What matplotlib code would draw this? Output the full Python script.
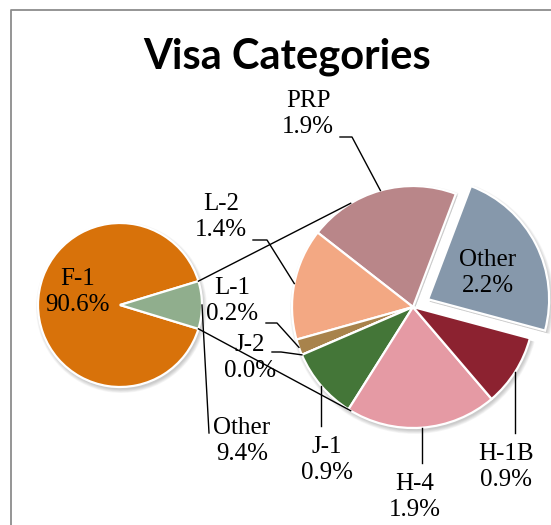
import numpy as np
import matplotlib
matplotlib.use("Agg")
import matplotlib.pyplot as plt
from matplotlib.patches import Wedge

W, H = 551, 525

# first pie
main_labels = ["F-1", "Other"]
main_values = [90.6, 9.4]
main_colors = ["#D8720A", "#90AE8D"]

# breakdown of "Other", counter-clockwise starting at the exploded slice
sub_labels = ["Other", "PRP", "L-2", "L-1", "J-2", "J-1", "H-4", "H-1B"]
sub_values = [2.2, 1.9, 1.4, 0.2, 0.0, 0.9, 1.9, 0.9]
sub_colors = ["#8698AB", "#B98689", "#F3A883", "#A8834C", "#6E8F4E",
              "#447638", "#E59AA4", "#8C2230"]


def px(x, y):
    """pixel position (from top-left) -> data coords"""
    return (x, H - y)


# layout, in pixels from the top-left corner
main_center, main_r = (120, 305), 82
sub_center, sub_r = (413, 307), 121
main_label_pos = {"F-1": (78, 292), "Other": (242, 441)}
sub_label_pos = {"Other": (488, 273), "PRP": (308, 114), "L-2": (221, 217),
                 "L-1": (232, 301), "J-2": (250, 358), "J-1": (327, 460),
                 "H-4": (415, 497), "H-1B": (506, 467)}
# elbow leaders: short horizontal run next to the text, then to the slice
elbows = {"PRP": [(340, 137), (352, 137)], "L-2": [(253, 240), (267, 240)],
          "L-1": [(266, 323), (277, 323)], "J-2": [(272, 352), (281, 352)]}
vertical_leaders = ["J-1", "H-4", "H-1B"]

label_font = dict(family="Liberation Serif", fontsize=18, color="black")

fig = plt.figure(figsize=(W / 100, H / 100), dpi=100)
ax = fig.add_axes([0, 0, 1, 1])

wp = dict(edgecolor="white", linewidth=1.6)
wl, _ = ax.pie(main_values, colors=main_colors, center=px(*main_center),
               radius=main_r, startangle=180 * main_values[1] / sum(main_values),
               wedgeprops=wp)
# explode is in data units (pixels here)
explode = [17] + [0] * (len(sub_values) - 1)
wr, _ = ax.pie(sub_values, colors=sub_colors, center=px(*sub_center),
               radius=sub_r, startangle=-15, explode=explode, wedgeprops=wp)


def add_shadow(wedges):
    # soft drop shadow under each slice
    for w in wedges:
        cx, cy = w.center
        for k in range(6):
            ax.add_patch(Wedge((cx + 1.5, cy - 2.5), w.r + 0.7 * k, w.theta1, w.theta2,
                               facecolor="black", alpha=0.035, lw=0, zorder=0))


add_shadow(wl)
add_shadow(wr)


def anchor(w):
    t = np.deg2rad((w.theta1 + w.theta2) / 2)
    return w.center[0] + w.r * np.cos(t), w.center[1] + w.r * np.sin(t)


# connector lines between the two pies
other = wl[1]
cx, cy = px(*sub_center)
for t_left, t_right in [(other.theta2, 121), (other.theta1, -121)]:
    a = np.deg2rad(t_left)
    b = np.deg2rad(t_right)
    x0 = other.center[0] + other.r * np.cos(a)
    y0 = other.center[1] + other.r * np.sin(a)
    x1 = cx + sub_r * np.cos(b)
    y1 = cy + sub_r * np.sin(b)
    ax.plot([x0, x1], [y0, y1], color="black", lw=1.0, zorder=5)

# first pie labels
for lab, val, w in zip(main_labels, main_values, wl):
    x, y = px(*main_label_pos[lab])
    ax.text(x, y, f"{lab}\n{val:.1f}%", ha="center", va="center", zorder=6, **label_font)
ax_, ay_ = anchor(wl[1])
lx, ly = px(*main_label_pos["Other"])
ax.plot([ax_, lx - 33], [ay_, ly + 8], color="black", lw=1.0, zorder=5)

# second pie labels and leaders
for lab, val, w in zip(sub_labels, sub_values, wr):
    x, y = px(*sub_label_pos[lab])
    ax.text(x, y, f"{lab}\n{val:.1f}%", ha="center", va="center", zorder=6, **label_font)
    a = anchor(w)
    if lab in elbows:
        (x0, y0), (x1, y1) = [px(*p) for p in elbows[lab]]
        ax.plot([x0, x1, a[0]], [y0, y1, a[1]], color="black", lw=1.0, zorder=5)
    elif lab in vertical_leaders:
        ax.plot([a[0], a[0]], [a[1], y + 34], color="black", lw=1.0, zorder=5)

# title
tx, ty = px(287, 69)
ax.text(tx, ty, "Visa Categories", ha="center", va="baseline", family="Lato",
        fontweight="bold", fontsize=30, color="black")

# chart area border (only the top and left edges fall inside the image)
ax.plot([11, 11, W + 5], [-5, H - 10, H - 10], color="#8c8c8c", lw=1.3, clip_on=False)

ax.set_aspect("equal")
ax.set_xlim(0, W)
ax.set_ylim(0, H)
ax.axis("off")

fig.savefig("out.png", dpi=100, facecolor="white")
